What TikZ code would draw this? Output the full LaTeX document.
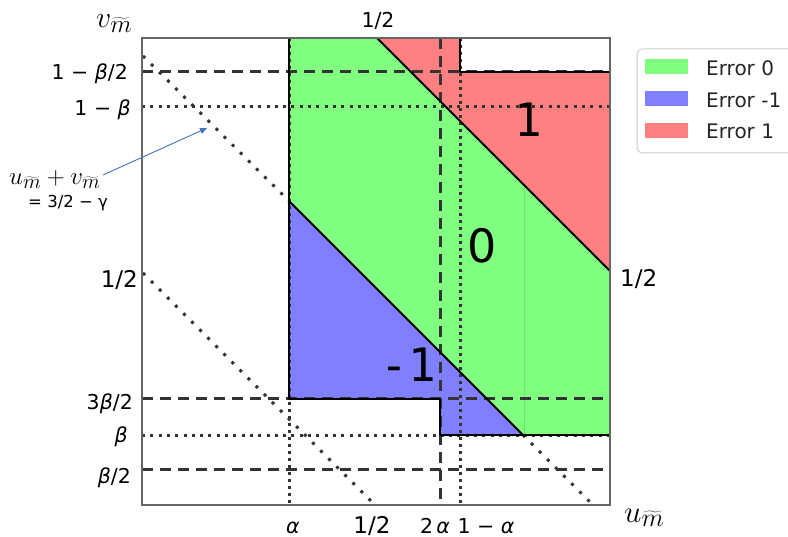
\documentclass[tikz,border=0pt]{standalone}
\usepackage[no-math]{fontspec}
\setmainfont{DejaVu Sans}
\newfontfamily\monofont{DejaVu Sans Mono}
\usetikzlibrary{arrows.meta}
\definecolor{gfill}{RGB}{128,255,128}
\definecolor{bfill}{RGB}{128,128,255}
\definecolor{rfill}{RGB}{255,128,128}
\definecolor{gline}{RGB}{95,240,95}
\definecolor{annblue}{RGB}{68,114,196}
\definecolor{lgray}{RGB}{51,51,51}
\tikzset{
  dashline/.style={line width=3pt, dash pattern=on 11pt off 7pt, lgray},
  dotline/.style={line width=3pt, dash pattern=on 3pt off 5.3pt, lgray},
  dotvline/.style={line width=3pt, dash pattern=on 3pt off 4pt, lgray},
  dotdiag/.style={line width=3pt, dash pattern=on 3pt off 8.4pt, lgray},
  edge/.style={line width=1.8pt, black, line cap=round, line join=round},
  lbl/.style={inner sep=0pt, font=\fontsize{20.5}{24}\selectfont},
  biglbl/.style={inner sep=0pt, font=\fontsize{23}{26}\selectfont},
  reglbl/.style={inner sep=0pt, font=\monofont\fontsize{46}{50}\selectfont},
  zerolbl/.style={inner sep=0pt, font=\fontsize{46}{50}\selectfont},
  leglbl/.style={inner sep=0pt, anchor=west, text=black!85, font=\fontsize{20}{24}\selectfont},
  mathlbl/.style={inner sep=0pt, anchor=base west, font=\Huge},
}
\begin{document}
\begin{tikzpicture}[x=1pt,y=-1pt]
\clip (0,0) rectangle (788,537);
\fill[white] (0,0) rectangle (788,537);
% regions
\fill[gfill] (289,38) -- (377,38) -- (610,271) -- (610,435) -- (523,435) -- (289,201) -- cycle;
\fill[bfill] (289,201) -- (523,435) -- (440,435) -- (440,399) -- (289,399) -- cycle;
\fill[rfill] (377,38) -- (460,38) -- (460,72) -- (610,72) -- (610,271) -- cycle;
\draw[gline, line width=0.8pt] (524,435) -- (524,186);
% guide lines
\draw[dashline] (142,72) -- (610,72);
\draw[dotline] (142,107) -- (610,107);
\draw[dashline] (142,399) -- (610,399);
\draw[dotline] (142,436) -- (610,436);
\draw[dashline] (142,470) -- (610,470);
\draw[dotvline] (289,38) -- (289,505);
\draw[dashline] (440,38) -- (440,505);
\draw[dotvline] (460,38) -- (460,505);
\draw[dotdiag] (143,56) -- (289,201);
\draw[dotdiag] (523,435) -- (593,505);
\draw[dotdiag] (143,273) -- (375,505);
% region outlines
\draw[edge] (289,38) -- (289,399) -- (440,399) -- (440,435) -- (610,435) -- (610,72) -- (460,72) -- (460,38);
\draw[edge] (377,38) -- (610,271);
\draw[edge] (289,201) -- (523,435);
% frame
\draw[black!60, line width=1.5pt] (142,38) rectangle (610,505);
% axis labels
\node[mathlbl] (vlab) at (96,28) {\scalebox{1.2}{$v_{\widetilde{m}}$}};
\node[mathlbl] (ulab) at (624,522) {\scalebox{1.25}{$u_{\widetilde{m}}$}};
% left labels
\node[lbl, anchor=base east] (l1) at (128,80) {1 − \textit{β}/2};
\node[lbl, anchor=base east] (l2) at (131,116) {1 − \textit{β}};
\node[biglbl, anchor=base east] (l3) at (138,288) {1/2};
\node[lbl, anchor=base east] (l4) at (133,410) {3\textit{β}/2};
\node[lbl, anchor=base east] (l5) at (128,443) {\textit{β}};
\node[lbl, anchor=base east] (l6) at (131,483) {\textit{β}/2};
% bottom labels
\node[lbl, anchor=base] (b1) at (293,533) {\textit{α}};
\node[biglbl, anchor=base] (b2) at (372,533) {1/2};
\node[lbl, anchor=base] (b3) at (435,533) {2\,\textit{α}};
\node[lbl, anchor=base] (b4) at (486,533) {1 − \textit{α}};
% top and right labels
\node[lbl, anchor=base] (t1) at (378,28) {1/2};
\node[biglbl, anchor=base west] (r1) at (620,287) {1/2};
% region labels
\node[reglbl] (rg1) at (528,120) {1};
\node[zerolbl] (rg0) at (482,246) {0};
\node[reglbl] (rgm) at (408,365) {-1};
% annotation
\node[mathlbl] (ann1) at (9,185) {$u_{\widetilde{m}} + v_{\widetilde{m}}$};
\node[inner sep=0pt, anchor=base west, font=\fontsize{16.5}{18}\selectfont] (ann2) at (28,208) {= 3/2 − γ};
\coordinate (arrS) at (103,175);
\coordinate (arrE) at (207,128);
\draw[annblue, line width=0.9pt, -{Triangle[length=7pt,width=6pt]}] (arrS) -- (arrE);
% legend
\draw[black!20, line width=1pt, fill=white, rounded corners=5pt] (637,49) rectangle (820,153);
\fill[gfill] (645,59) rectangle (688,74);
\fill[bfill] (645,91) rectangle (688,106);
\fill[rfill] (645,123) rectangle (688,138);
\node[leglbl] (e0) at (706,68) {Error 0};
\node[leglbl] (em) at (706,100) {Error -1};
\node[leglbl] (e1) at (706,131) {Error 1};
\end{tikzpicture}
\end{document}
